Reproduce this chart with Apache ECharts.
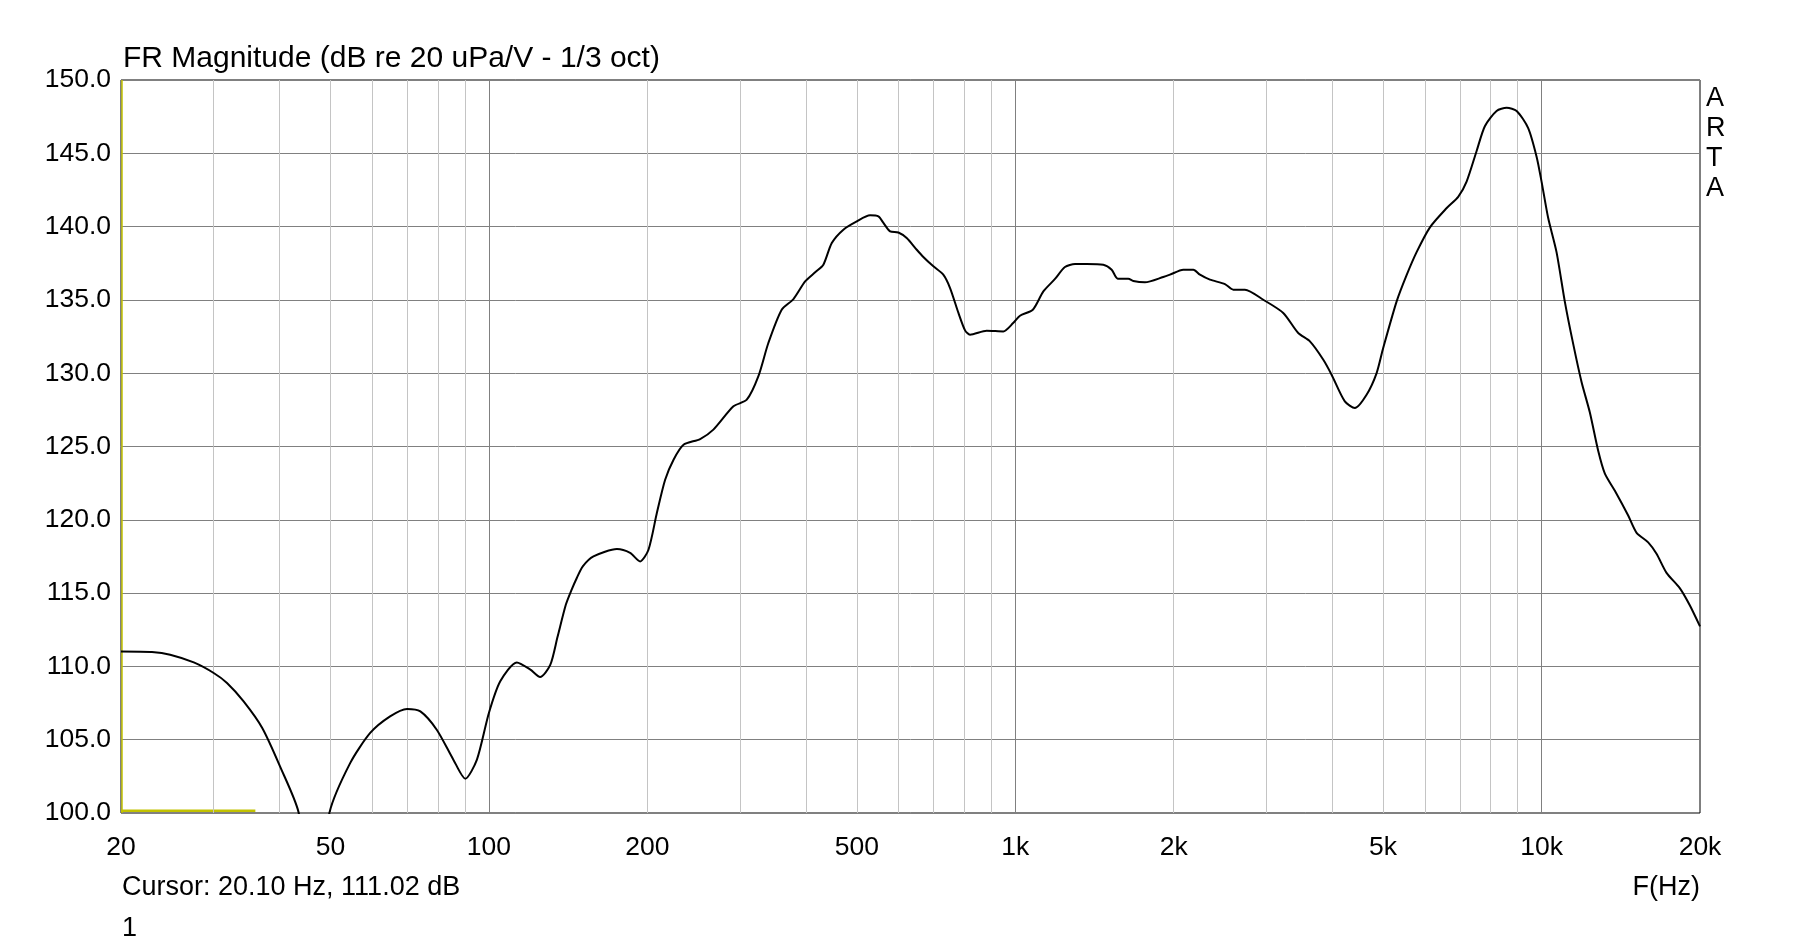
<!DOCTYPE html>
<html>
<head>
<meta charset="utf-8">
<script src="https://cdn.jsdelivr.net/npm/echarts@6/dist/echarts.min.js"></script>
<style>
html,body{margin:0;padding:0;background:#fff;}
#chart{width:1820px;height:946px;}
</style>
</head>
<body>
<div id="chart"></div>
<script>
// ---- data ----
const freqHz = [20,22.9,24.8,27.5,30,31.8,34.2,37.1,40.1,43.5,46.5,49.8,54.5,59.5,64.9,69.9,74.1,79.6,85.6,90.2,94.9,100,105.1,113,119.9,125.1,130.8,135,140,143.5,146.9,150.8,158,175.1,185.5,193.8,201,208.5,216.2,224.3,234.3,252,267,291.5,309,325,339.6,360,379,398.9,416.7,432,448.2,471.5,500,530,549.6,561.8,578.5,599.8,622,650,669,699,730,752,780,803,820.6,882.6,949,991,1021,1080,1131,1190,1243,1299,1367,1470,1525,1566,1640,1676,1764,1911,1968,2086,2180,2244,2344,2503,2596,2732,2960,3230,3449,3630,3849,3991,4229,4420,4651,4860,5000,5305,5541,5789,6137,6598,6944,7204,7527,7803,8214,8584,8968,9432,9785,10000,10292,10677,11073,11484,11912,12353,12811,13192,13782,14608,15156,15943,16537,17276,18306,19126,20000];
const magDb = [111.02,110.98,110.8,110.27,109.55,108.87,107.61,105.8,103.18,100.04,93,100.04,103.4,105.46,106.59,107.1,106.93,105.68,103.64,102.34,103.64,106.82,108.98,110.27,109.78,109.28,110.1,112.0,114.2,115.2,116.03,116.82,117.5,118.0,117.74,117.16,117.96,120.46,122.73,124.1,125.12,125.51,126.15,127.74,128.19,129.78,132.06,134.33,135.06,136.26,136.88,137.4,138.88,139.79,140.36,140.77,140.7,140.25,139.67,139.6,139.22,138.42,137.93,137.29,136.72,135.81,134.11,132.92,132.63,132.9,132.85,133.42,133.92,134.33,135.58,136.43,137.24,137.45,137.45,137.4,137.06,136.45,136.45,136.29,136.2,136.56,136.72,137.06,137.06,136.72,136.38,136.08,135.7,135.7,135.01,134.11,132.74,132.17,130.92,129.9,128.08,127.63,128.53,130.01,131.7,134.9,136.69,138.26,139.95,141.25,142.03,143.07,145.16,146.85,147.89,148.1,147.89,146.72,144.77,143.07,140.6,138.26,134.87,132.0,129.4,127.32,124.71,123.15,121.98,120.29,119.11,118.46,117.68,116.38,115.34,114.17,112.73];
const xTickValues = [20,50,100,200,500,1000,2000,5000,10000,20000];
const minorGridFreqs = [30,40,50,60,70,80,90,200,300,400,500,600,700,800,900,2000,3000,4000,5000,6000,7000,8000,9000];
const decadeGridFreqs = [100,1000,10000];
const cursorFreq = 20.1;
const cursorMarkFreqs = [20,36];
const cursorMarkDb = 100.16;
const titleText = 'FR Magnitude (dB re 20 uPa/V - 1/3 oct)';
const cursorText = 'Cursor: 20.10 Hz, 111.02 dB';
const xAxisName = 'F(Hz)';
const brandText = 'A\nR\nT\nA';
const traceLabel = '1';

const FONT = '"Liberation Sans", Arial, sans-serif';
function fmtHz(v){ return v >= 1000 ? (v/1000) + 'k' : String(v); }

const curve = freqHz.map((f,i)=>[f, magDb[i]]);
const gridLinesData = minorGridFreqs.map(f=>({xAxis:f, lineStyle:{color:'#c4c4c4', width:1, type:'solid'}}))
  .concat(decadeGridFreqs.map(f=>({xAxis:f, lineStyle:{color:'#808080', width:1, type:'solid'}})));

const chart = echarts.init(document.getElementById('chart'), null, {renderer:'canvas'});
chart.setOption({
  animation:false,
  backgroundColor:'#ffffff',
  grid:{left:121, right:120, top:80, bottom:133, show:true, borderColor:'#000', borderWidth:1, backgroundColor:'transparent'},
  xAxis:{
    type:'log', logBase:10, min:20, max:20000,
    axisLine:{show:false}, axisTick:{show:false, customValues:xTickValues},
    splitLine:{show:false}, minorSplitLine:{show:false},
    axisLabel:{customValues:xTickValues, formatter:fmtHz, color:'#000', fontFamily:FONT, fontSize:26.5, margin:21, showMinLabel:true, showMaxLabel:true, hideOverlap:false}
  },
  yAxis:{
    type:'value', min:100, max:150, interval:5,
    axisLine:{show:false}, axisTick:{show:false},
    splitLine:{show:true, lineStyle:{color:'#808080', width:1}},
    axisLabel:{formatter:v=>v.toFixed(1), color:'#000', fontFamily:FONT, fontSize:26.5, margin:10}
  },
  series:[
    {type:'line', data:[], silent:true, z:1,
      markLine:{silent:true, symbol:['none','none'], label:{show:false}, animation:false, data:gridLinesData}},
    {type:'line', data:cursorMarkFreqs.map(f=>[f,cursorMarkDb]), showSymbol:false, silent:true, z:3,
      lineStyle:{color:'#c2c200', width:2.5},
      markLine:{silent:true, symbol:['none','none'], label:{show:false}, animation:false,
        data:[{xAxis:cursorFreq, lineStyle:{color:'#c2c200', width:1.5, type:'solid'}}]}},
    {type:'line', data:curve, showSymbol:false, smooth:0.25, silent:true, z:5, clip:true,
      lineStyle:{color:'#000', width:2}}
  ],
  graphic:[
    {type:'text', x:123, y:58.5, style:{text:titleText, font:'30px '+FONT, fill:'#000', align:'left', verticalAlign:'middle'}},
    {type:'text', x:122, y:888, style:{text:cursorText, font:'27px '+FONT, fill:'#000', align:'left', verticalAlign:'middle'}},
    {type:'text', x:122, y:928.5, style:{text:traceLabel, font:'27px '+FONT, fill:'#000', align:'left', verticalAlign:'middle'}},
    {type:'text', x:1700, y:888, style:{text:xAxisName, font:'27px '+FONT, fill:'#000', align:'right', verticalAlign:'middle'}},
    {type:'text', x:1706, y:84, style:{text:brandText, font:'27px '+FONT, lineHeight:30, fill:'#000', align:'left', verticalAlign:'top'}}
  ]
});
</script>
</body>
</html>
